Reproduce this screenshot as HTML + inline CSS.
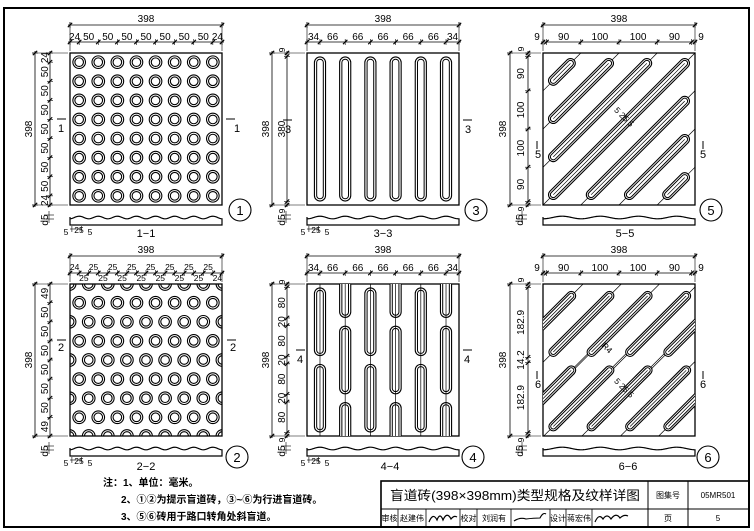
<!DOCTYPE html>
<html><head><meta charset="utf-8"><style>
html,body{margin:0;padding:0;background:#fff;}
svg{display:block;}
text{font-family:"Liberation Sans Narrow","Liberation Sans","Noto Sans CJK SC",sans-serif;fill:#000;}
.d{font-size:10px;text-anchor:middle;}
.s{font-size:8.5px;text-anchor:middle;}
.m{font-size:11px;text-anchor:middle;}
.c{font-size:13px;text-anchor:middle;}
.cn{font-family:"Liberation Sans","Noto Sans CJK SC",sans-serif;font-weight:bold;font-size:10px;}
.tb{font-family:"Liberation Sans","Noto Sans CJK SC",sans-serif;font-size:8px;text-anchor:middle;}
</style></head><body>
<svg id="svg" width="754" height="531" viewBox="0 0 754 531" xmlns="http://www.w3.org/2000/svg">
<rect x="0" y="0" width="754" height="531" fill="#fff"/>
<rect x="4" y="8" width="745" height="519" fill="none" stroke="#000" stroke-width="2"/>
<g id="shapes"></g>

<!-- Panel 1 -->
<g transform="translate(70,53)">
<text class="d" x="76" y="-31">398</text>
<text class="d" y="-13"><tspan x="4.6">24</tspan><tspan x="18.7">50</tspan><tspan x="37.8">50</tspan><tspan x="56.9">50</tspan><tspan x="76">50</tspan><tspan x="95.1">50</tspan><tspan x="114.2">50</tspan><tspan x="133.3">50</tspan><tspan x="147.4">24</tspan></text>
<text class="d" transform="translate(-38,76) rotate(-90)">398</text>
<text class="d" transform="translate(-22,4.6) rotate(-90)">24</text>
<text class="d" transform="translate(-22,18.7) rotate(-90)">50</text>
<text class="d" transform="translate(-22,37.8) rotate(-90)">50</text>
<text class="d" transform="translate(-22,56.9) rotate(-90)">50</text>
<text class="d" transform="translate(-22,76) rotate(-90)">50</text>
<text class="d" transform="translate(-22,95.1) rotate(-90)">50</text>
<text class="d" transform="translate(-22,114.2) rotate(-90)">50</text>
<text class="d" transform="translate(-22,133.3) rotate(-90)">50</text>
<text class="d" transform="translate(-22,147.4) rotate(-90)">24</text>
<text class="m" x="-9" y="79">1</text><text class="m" x="167" y="79">1</text>
<text class="d" transform="translate(-22,167) rotate(-90)">d5</text>
<text class="s" x="-4" y="182">5</text><text class="s" x="9" y="180">25</text><text class="s" x="20" y="182">5</text>
<text class="m" x="76" y="184">1−1</text>
<text class="c" x="170" y="162">1</text>
</g>

<!-- Panel 2 -->
<g transform="translate(70,284)">
<text class="d" x="76" y="-31">398</text>
<text class="s" y="-14"><tspan x="4.6">24</tspan><tspan x="23.5">25</tspan><tspan x="42.6">25</tspan><tspan x="61.7">25</tspan><tspan x="80.7">25</tspan><tspan x="99.8">25</tspan><tspan x="118.9">25</tspan><tspan x="138.1">25</tspan></text>
<text class="s" y="-3"><tspan x="13.9">25</tspan><tspan x="33">25</tspan><tspan x="52.1">25</tspan><tspan x="71.2">25</tspan><tspan x="90.3">25</tspan><tspan x="109.4">25</tspan><tspan x="128.5">25</tspan><tspan x="147.4">24</tspan></text>
<text class="d" transform="translate(-38,76) rotate(-90)">398</text>
<text class="d" transform="translate(-22,9.4) rotate(-90)">49</text>
<text class="d" transform="translate(-22,28.3) rotate(-90)">50</text>
<text class="d" transform="translate(-22,47.4) rotate(-90)">50</text>
<text class="d" transform="translate(-22,66.5) rotate(-90)">50</text>
<text class="d" transform="translate(-22,85.5) rotate(-90)">50</text>
<text class="d" transform="translate(-22,104.6) rotate(-90)">50</text>
<text class="d" transform="translate(-22,123.7) rotate(-90)">50</text>
<text class="d" transform="translate(-22,142.6) rotate(-90)">49</text>
<text class="m" x="-9" y="67">2</text><text class="m" x="163" y="67">2</text>
<text class="d" transform="translate(-22,167) rotate(-90)">d5</text>
<text class="s" x="-4" y="182">5</text><text class="s" x="9" y="180">25</text><text class="s" x="20" y="182">5</text>
<text class="m" x="76" y="186">2−2</text>
<text class="c" x="167" y="178">2</text>
</g>

<!-- Panel 3 -->
<g transform="translate(307,53)">
<text class="d" x="76" y="-31">398</text>
<text class="d" y="-13"><tspan x="6.5">34</tspan><tspan x="25.6">66</tspan><tspan x="50.8">66</tspan><tspan x="76">66</tspan><tspan x="101.2">66</tspan><tspan x="126.4">66</tspan><tspan x="145.5">34</tspan></text>
<text class="d" transform="translate(-38,76) rotate(-90)">398</text>
<text class="d" transform="translate(-22,76) rotate(-90)">380</text>
<text class="s" transform="translate(-22,-3) rotate(-90)">9</text>
<text class="s" transform="translate(-22,158) rotate(-90)">9</text>
<text class="m" x="-19" y="80">3</text><text class="m" x="161" y="80">3</text>
<text class="d" transform="translate(-22,167) rotate(-90)">d5</text>
<text class="s" x="-4" y="182">5</text><text class="s" x="9" y="180">25</text><text class="s" x="20" y="182">5</text>
<text class="m" x="76" y="184">3−3</text>
<text class="c" x="169" y="162">3</text>
</g>

<!-- Panel 4 -->
<g transform="translate(307,284)">
<text class="d" x="76" y="-31">398</text>
<text class="d" y="-13"><tspan x="6.5">34</tspan><tspan x="25.6">66</tspan><tspan x="50.8">66</tspan><tspan x="76">66</tspan><tspan x="101.2">66</tspan><tspan x="126.4">66</tspan><tspan x="145.5">34</tspan></text>
<text class="d" transform="translate(-38,76) rotate(-90)">398</text>
<text class="s" transform="translate(-22,-2) rotate(-90)">9</text>
<text class="d" transform="translate(-22,18.7) rotate(-90)">80</text>
<text class="d" transform="translate(-22,37.8) rotate(-90)">20</text>
<text class="d" transform="translate(-22,56.9) rotate(-90)">80</text>
<text class="d" transform="translate(-22,76) rotate(-90)">20</text>
<text class="d" transform="translate(-22,95.1) rotate(-90)">80</text>
<text class="d" transform="translate(-22,114.2) rotate(-90)">20</text>
<text class="d" transform="translate(-22,133.3) rotate(-90)">80</text>
<text class="s" transform="translate(-22,156) rotate(-90)">9</text>
<text class="m" x="-7" y="79">4</text><text class="m" x="160" y="79">4</text>
<text class="d" transform="translate(-22,167) rotate(-90)">d5</text>
<text class="s" x="-4" y="182">5</text><text class="s" x="9" y="180">25</text><text class="s" x="20" y="182">5</text>
<text class="m" x="83" y="186">4−4</text>
<text class="c" x="166" y="178">4</text>
</g>

<!-- Panel 5 -->
<g transform="translate(543,53)">
<text class="d" x="76" y="-31">398</text>
<text class="d" y="-13"><tspan x="-6">9</tspan><tspan x="20.6">90</tspan><tspan x="56.9">100</tspan><tspan x="95.1">100</tspan><tspan x="131.4">90</tspan><tspan x="158">9</tspan></text>
<text class="d" transform="translate(-37,76) rotate(-90)">398</text>
<text class="s" transform="translate(-19,-4) rotate(-90)">9</text>
<text class="d" transform="translate(-19,20.6) rotate(-90)">90</text>
<text class="d" transform="translate(-19,56.9) rotate(-90)">100</text>
<text class="d" transform="translate(-19,95.1) rotate(-90)">100</text>
<text class="d" transform="translate(-19,131.4) rotate(-90)">90</text>
<text class="s" transform="translate(-19,156) rotate(-90)">9</text>
<text class="m" x="-5" y="105">5</text><text class="m" x="160" y="105">5</text>
<text class="s" transform="translate(79,66) rotate(45)">5 25 5</text>
<text class="d" transform="translate(-20,167) rotate(-90)">d5</text>
<text class="m" x="82" y="184">5−5</text>
<text class="c" x="168" y="162">5</text>
</g>

<!-- Panel 6 -->
<g transform="translate(543,284)">
<text class="d" x="76" y="-31">398</text>
<text class="d" y="-13"><tspan x="-6">9</tspan><tspan x="20.6">90</tspan><tspan x="56.9">100</tspan><tspan x="95.1">100</tspan><tspan x="131.4">90</tspan><tspan x="158">9</tspan></text>
<text class="d" transform="translate(-37,76) rotate(-90)">398</text>
<text class="s" transform="translate(-19,-4) rotate(-90)">9</text>
<text class="d" transform="translate(-19,38.4) rotate(-90)">182.9</text>
<text class="d" transform="translate(-19,76) rotate(-90)">14.2</text>
<text class="d" transform="translate(-19,113.6) rotate(-90)">182.9</text>
<text class="s" transform="translate(-19,156) rotate(-90)">9</text>
<text class="m" x="-5" y="104">6</text><text class="m" x="160" y="104">6</text>
<text class="s" transform="translate(62,66) rotate(45)">R4</text>
<text class="s" transform="translate(79,106) rotate(45)">5 25 5</text>
<text class="d" transform="translate(-20,167) rotate(-90)">d5</text>
<text class="m" x="85" y="186">6−6</text>
<text class="c" x="165" y="178">6</text>
</g>

<!-- Notes -->
<text class="cn" x="103" y="486">注：1、单位：毫米。</text>
<text class="cn" x="121" y="503">2、①②为提示盲道砖，③~⑥为行进盲道砖。</text>
<text class="cn" x="121" y="520">3、⑤⑥砖用于路口转角处斜盲道。</text>

<!-- Title block -->
<g fill="none" stroke="#000">
<rect x="381" y="481" width="368" height="46" stroke-width="1.6"/>
<line x1="381" y1="509" x2="749" y2="509" stroke-width="1"/>
<line x1="648" y1="481" x2="648" y2="527" stroke-width="1"/>
<line x1="688" y1="481" x2="688" y2="527" stroke-width="1"/>
<line x1="398" y1="509" x2="398" y2="527" stroke-width="0.8"/>
<line x1="426" y1="509" x2="426" y2="527" stroke-width="0.8"/>
<line x1="460" y1="509" x2="460" y2="527" stroke-width="0.8"/>
<line x1="477" y1="509" x2="477" y2="527" stroke-width="0.8"/>
<line x1="511" y1="509" x2="511" y2="527" stroke-width="0.8"/>
<line x1="550" y1="509" x2="550" y2="527" stroke-width="0.8"/>
<line x1="566" y1="509" x2="566" y2="527" stroke-width="0.8"/>
<line x1="592" y1="509" x2="592" y2="527" stroke-width="0.8"/>
<path d="M429 522 q4 -10 8 -2 q3 -8 6 0 q4 -9 8 -1 q3 -4 6 -2" stroke-width="1.2"/>
<path d="M514 521 q6 -4 12 -2 q8 -1 14 -1 q3 -6 6 -4" stroke-width="1.1"/>
<path d="M595 522 q4 -9 8 -3 q4 -6 8 0 q5 -7 9 -1 q4 -4 8 -2" stroke-width="1.2"/>
</g>
<text x="515" y="500" style="font-family:'Liberation Sans','Noto Sans CJK SC',sans-serif;font-size:13px;text-anchor:middle;" textLength="250" lengthAdjust="spacingAndGlyphs">盲道砖(398×398mm)类型规格及纹样详图</text>
<text class="tb" x="668" y="498">图集号</text>
<text class="tb" x="718" y="498">05MR501</text>
<text class="tb" x="389.5" y="521">审核</text>
<text class="tb" x="412" y="521">赵建伟</text>
<text class="tb" x="468.5" y="521">校对</text>
<text class="tb" x="494" y="521">刘润有</text>
<text class="tb" x="558" y="521">设计</text>
<text class="tb" x="579" y="521">蒋宏伟</text>
<text class="tb" x="668" y="521">页</text>
<text class="tb" x="718" y="521">5</text>
</svg>
<script>
(function(){
const NS='http://www.w3.org/2000/svg';
const svg=document.getElementById('svg');
const root=document.getElementById('shapes');
const defs=document.createElementNS(NS,'defs');svg.insertBefore(defs,svg.firstChild);
function el(tag,a,p){const e=document.createElementNS(NS,tag);for(const k in a)e.setAttribute(k,a[k]);(p||root).appendChild(e);return e;}
const S=152/398;
function ln(x1,y1,x2,y2,w,p){el('line',{x1:x1,y1:y1,x2:x2,y2:y2,stroke:'#000','stroke-width':w||0.8},p);}
function tk(x,y){ln(x-2.2,y+2.2,x+2.2,y-2.2,1.1);}
function hdim(X,y,t){ln(X+t[0]*S-2,y,X+t[t.length-1]*S+2,y,0.8);t.forEach(v=>{ln(X+v*S,y-3,X+v*S,y+3,0.6);tk(X+v*S,y);});}
function vdim(Y,x,t){ln(x,Y+t[0]*S-2,x,Y+t[t.length-1]*S+2,0.8);t.forEach(v=>{ln(x-3,Y+v*S,x+3,Y+v*S,0.6);tk(x,Y+v*S);});}
function frame(X,Y,top,left,ox,sx){
 hdim(X,Y-28,[0,398]);hdim(X,Y-11,top);
 vdim(Y,X+ox,[0,398]);vdim(Y,X+sx,left);
 ln(X,Y-31,X,Y-2,0.6);ln(X+152,Y-31,X+152,Y-2,0.6);
 ln(X+ox-3,Y,X-2,Y,0.6);ln(X+ox-3,Y+152,X-2,Y+152,0.6);
}
function clip(id,X,Y){const c=el('clipPath',{id:id},defs);el('rect',{x:X,y:Y,width:152,height:152},c);const g=el('g',{'clip-path':'url(#'+id+')'});return g;}
function pill(g,x1,y1,x2,y2,ro,ri){
 const a=(c,w)=>el('line',{x1:x1,y1:y1,x2:x2,y2:y2,stroke:c,'stroke-width':w,'stroke-linecap':'round'},g);
 a('#000',2*ro*S);a('#fff',2*ro*S-2.2);a('#000',2*ri*S);a('#fff',2*ri*S-2);
}
function tile(X,Y){el('rect',{x:X,y:Y,width:152,height:152,fill:'none',stroke:'#000','stroke-width':1.3});}
function profile(X,Y,per,off){
 let d='M'+X+','+(Y+172)+' L'+X+','+(Y+164);
 for(let x=0;x<=152;x+=1){const yy=Y+164.5-1.3*Math.cos(2*Math.PI*(x-off)/per);d+=' L'+(X+x)+','+yy.toFixed(2);}
 d+=' L'+(X+152)+','+(Y+172)+' Z';
 el('path',{d:d,fill:'none',stroke:'#000','stroke-width':1.2});
 ln(X-26,Y+162,X-16,Y+162,0.6);ln(X-26,Y+166,X-16,Y+166,0.6);ln(X-21,Y+158,X-21,Y+170,0.6);
}
function marks(X,Y,y,lx,rx){ln(X+lx,Y+y,X+lx+9,Y+y,1);ln(X+rx,Y+y,X+rx+9,Y+y,1);}
function circ(cx,cy,r,p){el('circle',{cx:cx,cy:cy,r:r,fill:'none',stroke:'#000','stroke-width':1.1},p);}
const rng=(a,b,s)=>{const r=[];for(let v=a;v<=b+1e-6;v+=s)r.push(v);return r;};
function small5(X,Y){ln(X,Y+176,X+12,Y+176,0.6);ln(X+1.9,Y+173,X+1.9,Y+179,0.6);ln(X+11.5,Y+173,X+11.5,Y+179,0.6);}

// Panel 1
let X=70,Y=53;
let t1=[0].concat(rng(24,374,50),[398]);
frame(X,Y,t1,t1,-35,-20);tile(X,Y);
rng(24,374,50).forEach(cy=>rng(24,374,50).forEach(cx=>{circ(X+cx*S,Y+cy*S,6.3);circ(X+cx*S,Y+cy*S,4.3);}));
profile(X,Y,50*S,24*S);marks(X,Y,66,-13,156);circ(X+170,Y+157,11);small5(X,Y);

// Panel 2
X=70;Y=284;
frame(X,Y,[0,24].concat(rng(49,374,25),[398]),[0].concat(rng(49,349,50),[398]),-35,-20);tile(X,Y);
let g2=clip('c2',X,Y);
const rows2=[0,49,99,149,199,249,299,349,398];
rows2.forEach((cy,j)=>{const xs=j%2===1?rng(24,374,50):rng(-1,399,50);xs.forEach(cx=>{circ(X+cx*S,Y+cy*S,6.3,g2);circ(X+cx*S,Y+cy*S,4.3,g2);});});
profile(X,Y,50*S,24*S);marks(X,Y,56,-13,157);circ(X+167,Y+173,11);small5(X,Y);

// Panel 3
X=307;Y=53;
let t3=[0,34,100,166,232,298,364,398];
frame(X,Y,t3,[0,9,389,398],-35,-20);tile(X,Y);
t3.slice(1,7).forEach(cx=>{pill(root,X+cx*S,Y+25*S,X+cx*S,Y+373*S,16,10);});
profile(X,Y,66*S,34*S);marks(X,Y,67,-24,156);circ(X+169,Y+157,11);small5(X,Y);

// Panel 4
X=307;Y=284;
frame(X,Y,t3,[0,9,89,109,189,209,289,309,389,398],-35,-20);tile(X,Y);
let g4=clip('c4',X,Y);
t3.slice(1,7).forEach((cx,i)=>{
 const segs=i%2===0?[[9,189],[209,389]]:[[-200,89],[109,289],[309,600]];
 segs.forEach(s=>pill(g4,X+cx*S,Y+(s[0]+16)*S,X+cx*S,Y+(s[1]-16)*S,16,10));
 ln(X+cx*S,Y,X+cx*S,Y+152,0.7,g4);
});
profile(X,Y,66*S,34*S);marks(X,Y,66,-11,156);circ(X+166,Y+173,11);small5(X,Y);

// Panel 5
X=543;Y=53;
let t5=[0,9,99,199,299,389,398];
frame(X,Y,t5,t5,-33,-15);tile(X,Y);
let g5=clip('c5',X,Y);
[99,199,299,398,497,597,697].forEach(c=>{
 ln(X+Math.max(0,c-398)*S,Y+Math.min(398,c)*S,X+Math.min(398,c)*S,Y+Math.max(0,c-398)*S,0.7,g5);
});
[99,199,299,398,497,597,697].forEach(c=>{
 const x1=Math.max(27,c-371),x2=Math.min(371,c-27);
 pill(g5,X+x1*S,Y+(c-x1)*S,X+x2*S,Y+(c-x2)*S,14,9);
 el('line',{x1:X+x1*S,y1:Y+(c-x1)*S,x2:X+x2*S,y2:Y+(c-x2)*S,stroke:'#000','stroke-width':0.7},g5);
});
profile(X,Y,100*S,50*S);ln(X-6,Y+88,X-6,Y+96,1);ln(X+160,Y+88,X+160,Y+96,1);circ(X+168,Y+157,11);

// Panel 6
X=543;Y=284;
frame(X,Y,t5,[0,9,191.9,206.1,389,398],-33,-15);tile(X,Y);
let g6=clip('c6',X,Y);
[[188,0],[383,195]].forEach(row=>{
 [-83,17,117,218,318].forEach(x0=>{
  const ax=x0+10,ay=row[0]-10,bx=x0+157,by=row[0]-157;
  ln(X+(ax-60)*S,Y+(ay+60)*S,X+(bx+60)*S,Y+(by-60)*S,0.7,g6);
 });
});
[[188,0],[383,195]].forEach(row=>{
 [-83,17,117,218,318].forEach(x0=>{
  const ax=x0+10,ay=row[0]-10,bx=x0+157,by=row[0]-157;
  pill(g6,X+ax*S,Y+ay*S,X+bx*S,Y+by*S,13,8);
  el('line',{x1:X+ax*S,y1:Y+ay*S,x2:X+bx*S,y2:Y+by*S,stroke:'#000','stroke-width':0.7},g6);
 });
});
profile(X,Y,100*S,50*S);ln(X-6,Y+87,X-6,Y+95,1);ln(X+160,Y+87,X+160,Y+95,1);circ(X+165,Y+173,11);
})();
</script>
</body></html>
